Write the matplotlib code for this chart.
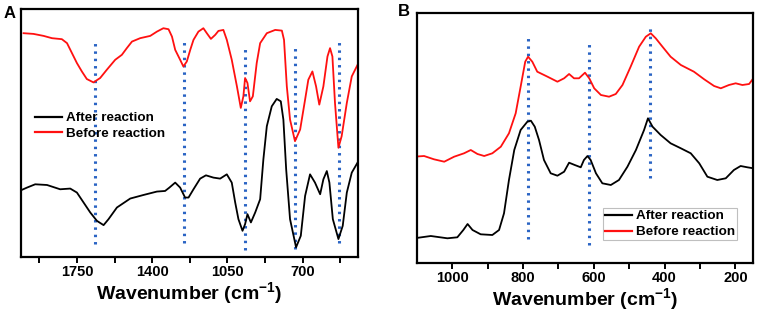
"""Two FTIR / Raman panels: before vs after reaction, with marker lines."""

import matplotlib

matplotlib.use("Agg")
import matplotlib.pyplot as plt

# Panel A - wavenumber (cm-1) and relative signal (arbitrary units)
A_RED_WN = [1998, 1952, 1905, 1866, 1820, 1796, 1773, 1750, 1727, 1704, 1673,
            1642, 1611, 1572, 1541, 1518, 1494, 1456, 1409, 1378, 1348, 1324,
            1308, 1293, 1270, 1255, 1239, 1223, 1208, 1185, 1162, 1146, 1127,
            1107, 1092, 1069, 1053, 1030, 1006, 988, 976, 968, 957, 945, 932,
            914, 898, 867, 828, 797, 787, 774, 759, 736, 712, 689, 674, 655,
            638, 623, 604, 585, 573, 562, 550, 534, 519, 495, 472, 441]
A_RED_Y = [224.7, 224, 222, 219.7, 218.7, 214.7, 204.7, 194.7, 186.3, 178.7,
           175.3, 179.7, 188, 198, 203, 209.7, 216.3, 219.7, 222, 226.3, 229.7,
           228.7, 221.3, 208, 198, 191.3, 196.3, 208, 218, 226.3, 229.7, 224.7,
           219, 223, 227, 228, 218, 198, 171.3, 149.7, 161.3, 179.7, 174.7,
           156.3, 161.3, 194.7, 214.7, 224.7, 228, 227.3, 218, 171.3, 138,
           116.3, 128, 158, 178, 186.3, 171.3, 153, 171.3, 201.3, 209.7, 201.3,
           154.7, 109.7, 121.3, 154.7, 181.3, 194.7]

A_BLACK_WN = [2005, 1982, 1944, 1889, 1828, 1781, 1750, 1719, 1688, 1657, 1626,
              1603, 1564, 1502, 1440, 1378, 1340, 1320, 1293, 1270, 1247, 1231,
              1208, 1177, 1150, 1115, 1084, 1053, 1030, 1014, 999, 980, 968, 957,
              941, 921, 898, 883, 867, 844, 821, 802, 790, 777, 759, 731, 709,
              689, 666, 643, 619, 604, 588, 576, 560, 534, 514, 495, 472, 441]
A_BLACK_Y = [67.5, 69.7, 73, 72.3, 68, 68.7, 64.7, 54.7, 44.7, 36.3, 32,
             38, 49.7, 58.7, 62.3, 65.7, 66.3, 69.7, 74.7, 69.7, 59.7, 59.7,
             68, 78.7, 82, 79.7, 78.7, 83, 74.7, 54.7, 38, 26.3, 33, 43,
             34.7, 44.7, 58, 98, 131.3, 151.3, 158.7, 156.3, 138, 88, 38, 9.7,
             21.3, 61.3, 83, 74.7, 63, 78, 86.3, 74.7, 38, 18, 31.3, 64.7, 84.7,
             96.3]

A_MARKS = [1665, 1251, 968, 736, 531]
A_MARK_TOP = [215, 216, 210, 210, 216]
A_MARK_BOTTOM = [13, 14, 7, 8, 14]
A_TICKS = [1750, 1400, 1050, 700]
A_MINOR = [1925, 1575, 1225, 875, 525]

# Panel B
B_RED_WN = [1108, 1080, 1052, 1023, 995, 967, 948, 929, 910, 887, 863, 840,
            821, 807, 794, 786, 774, 760, 731, 703, 684, 670, 656, 642, 625,
            613, 599, 580, 557, 538, 519, 496, 472, 453, 439, 425, 406, 383,
            354, 317, 288, 260, 241, 218, 199, 180, 161, 149]
B_RED_Y = [106.3, 107, 103.7, 101.3, 106.3, 109.7, 113, 109, 107, 109.7,
           116.3, 129.7, 149.7, 176.3, 201.3, 206.3, 201.3, 191.3, 186.3,
           181.3, 184.7, 189, 184.7, 184.7, 190.3, 184.7, 174.7, 168, 166.3,
           169, 178, 196.3, 216.3, 226.3, 229.7, 224.7, 216.3, 206.3, 198,
           191.3, 183.7, 177, 174.7, 178, 179.7, 178, 179, 184.7]

B_BLACK_WN = [1108, 1061, 1014, 986, 969, 957, 943, 920, 887, 868, 854, 840,
              825, 807, 788, 778, 767, 755, 741, 722, 703, 684, 670, 654, 637,
              628, 618, 609, 594, 576, 552, 529, 505, 481, 458, 447, 434, 411,
              383, 354, 326, 302, 279, 251, 227, 204, 185, 166, 149]
B_BLACK_Y = [24.7, 27, 24.7, 25.7, 33, 39, 33, 28.7, 28, 33, 49.7, 83,
             113, 133, 141.3, 142.3, 136.3, 123, 103, 89.7, 87.3, 91.3, 100.3,
             98, 95.7, 103, 107, 103, 89.7, 79.7, 78, 83, 96.3, 113, 133,
             144.7, 136.3, 128, 119.7, 114.7, 109.7, 99.7, 86.3, 83, 84.7, 93,
             97, 95.7, 94.7]

B_MARKS = [786, 613, 441]
B_MARK_TOP = [226, 220, 237]
B_MARK_BOTTOM = [24, 18, 85]
B_TICKS = [1000, 800, 600, 400, 200]
B_MINOR = [900, 700, 500, 300]

DOT_BLUE = "#2a64c4"
RED = "#ff1010"


def style_axes(ax, ticks, minor):
    for sp in ax.spines.values():
        sp.set_linewidth(1.6)
    ax.set_yticks([])
    ax.set_xticks(ticks)
    ax.set_xticks(minor, minor=True)
    ax.tick_params(axis="x", which="both", direction="out", width=1.4,
                   length=4, labelsize=10.5, pad=2)
    for lab in ax.get_xticklabels():
        lab.set_fontweight("bold")
    ax.set_xlabel(r"Wavenumber (cm$^{\mathbf{-1}}$)", fontsize=14,
                  fontweight="bold", labelpad=1)


def draw_panel(ax, marks, tops, bots, black, red):
    for x, top, bot in zip(marks, tops, bots):
        ax.plot([x, x], [bot, top], color=DOT_BLUE, lw=2.2,
                linestyle=(0, (0.8, 1.6)), zorder=1)
    line_kw = dict(lw=1.3, solid_joinstyle="round", zorder=2)
    ax.plot(*black, color="black", label="After reaction", **line_kw)
    ax.plot(*red, color=RED, label="Before reaction", **line_kw)


def main() -> None:
    plt.rcParams["font.family"] = ["Liberation Sans", "DejaVu Sans"]
    plt.rcParams["mathtext.fontset"] = "custom"
    plt.rcParams["mathtext.bf"] = "Liberation Sans:bold"
    plt.rcParams["mathtext.rm"] = "Liberation Sans"

    fig = plt.figure(figsize=(7.61, 3.17), dpi=100)
    leg_prop = {"weight": "bold", "size": 9.7}

    # ---- panel A
    ax = fig.add_axes([21 / 761, 60 / 317, 337 / 761, 248 / 317])
    draw_panel(ax, A_MARKS, A_MARK_TOP, A_MARK_BOTTOM,
               (A_BLACK_WN, A_BLACK_Y), (A_RED_WN, A_RED_Y))
    ax.set_xlim(2010, 443)
    ax.set_ylim(0, 249)
    style_axes(ax, A_TICKS, A_MINOR)
    leg = ax.legend(loc="upper left", bbox_to_anchor=(0.042, 0.585),
                    frameon=False, borderaxespad=0, borderpad=0,
                    handlelength=2.0, handletextpad=0.3, labelspacing=0.25,
                    prop=leg_prop)
    for line in leg.get_lines():
        line.set_linewidth(1.6)
    fig.text(10 / 761, 1 - 13 / 317, "A", fontsize=12, fontweight="bold",
             ha="center", va="center")

    # ---- panel B
    bx = fig.add_axes([417 / 761, 54 / 317, 336 / 761, 250 / 317])
    draw_panel(bx, B_MARKS, B_MARK_TOP, B_MARK_BOTTOM,
               (B_BLACK_WN, B_BLACK_Y), (B_RED_WN, B_RED_Y))
    bx.set_xlim(1100, 150)
    bx.set_ylim(0, 250)
    style_axes(bx, B_TICKS, B_MINOR)
    leg = bx.legend(loc="upper left", bbox_to_anchor=(0.554, 0.22),
                    frameon=True, fancybox=False, borderaxespad=0,
                    borderpad=0.15, handlelength=2.0, handletextpad=0.3,
                    labelspacing=0.25, prop=leg_prop)
    leg.get_frame().set_edgecolor("#b0b0b0")
    leg.get_frame().set_linewidth(0.8)
    for line in leg.get_lines():
        line.set_linewidth(1.6)
    fig.text(404 / 761, 1 - 12 / 317, "B", fontsize=12, fontweight="bold",
             ha="center", va="center")

    fig.savefig("out.png", dpi=100)


if __name__ == "__main__":
    main()
